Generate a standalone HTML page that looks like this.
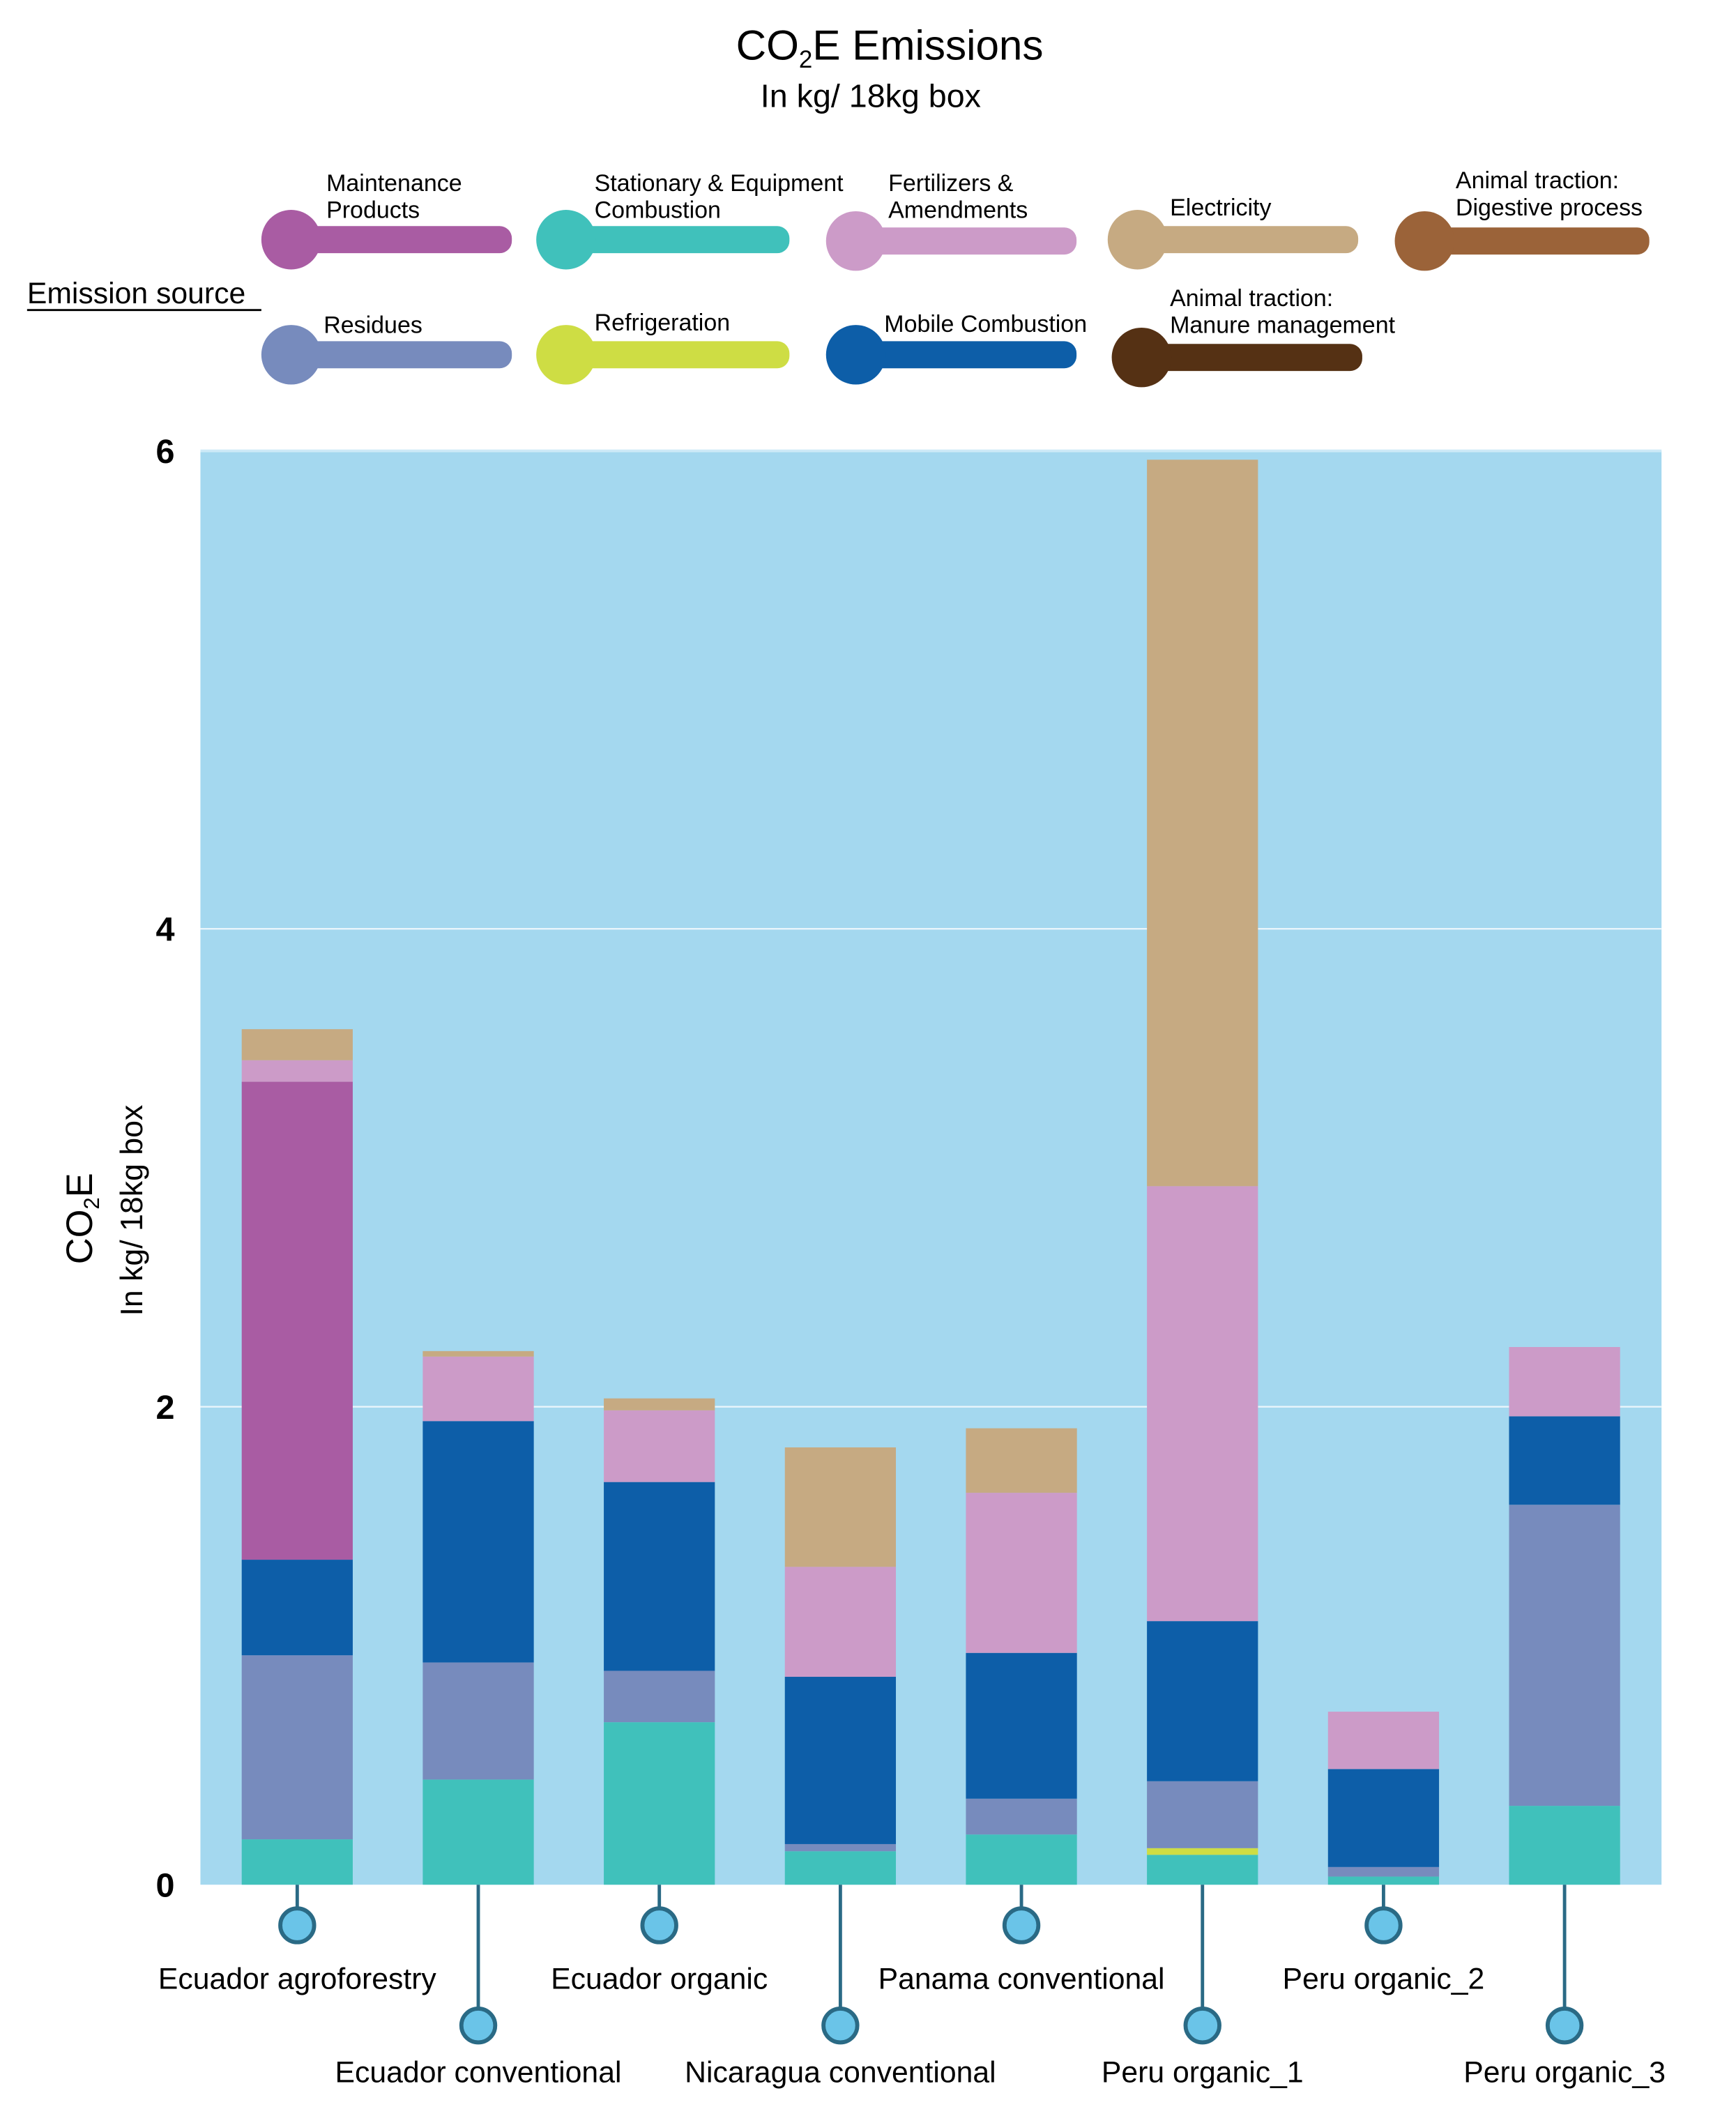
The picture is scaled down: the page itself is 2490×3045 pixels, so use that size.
<!DOCTYPE html>
<html><head><meta charset="utf-8"><style>
html,body{margin:0;padding:0;background:#fff}
svg{display:block;font-family:"Liberation Sans",sans-serif}
</style></head><body>
<svg id="chart" width="2490" height="3045" viewBox="0 0 1282 1568" preserveAspectRatio="none" xmlns="http://www.w3.org/2000/svg">
<text x="657" y="44" text-anchor="middle" font-size="31">CO<tspan font-size="18" dy="6">2</tspan><tspan dy="-6">E Emissions</tspan></text>
<text x="643" y="79" text-anchor="middle" font-size="24">In kg/ 18kg box</text>
<text x="20" y="224" font-size="22">Emission source</text>
<line x1="20" y1="229" x2="193" y2="229" stroke="#000" stroke-width="1.5"/>
<g id="legend"></g>
<rect x="148" y="333" width="1079" height="1059" fill="#a4d8ef"/>
<line x1="148" y1="333" x2="1227" y2="333" stroke="#cdeaf7" stroke-width="2"/>
<g id="grid"></g>
<g id="bars"></g>
<g id="yaxis"></g>
<g id="xaxis"></g>
<text transform="translate(68,900) rotate(-90)" text-anchor="middle" font-size="27">CO<tspan font-size="16" dy="5">2</tspan><tspan dy="-5">E</tspan></text>
<text transform="translate(105,894) rotate(-90)" text-anchor="middle" font-size="23">In kg/ 18kg box</text>
</svg>
<script>
const categories = ["Ecuador agroforestry","Ecuador conventional","Ecuador organic","Nicaragua conventional","Panama conventional","Peru organic_1","Peru organic_2","Peru organic_3"];
const seriesNames = ["Stationary & Equipment Combustion","Refrigeration","Residues","Mobile Combustion","Maintenance Products","Fertilizers & Amendments","Electricity"];
const stationary = [0.19,0.44,0.68,0.14,0.21,0.125,0.034,0.33];
const refrigeration = [0,0,0,0,0,0.028,0,0];
const residues = [0.77,0.49,0.215,0.03,0.15,0.28,0.04,1.26];
const mobile = [0.40,1.01,0.79,0.70,0.61,0.67,0.41,0.37];
const maintenance = [2.0,0,0,0,0,0,0,0];
const fertilizers = [0.09,0.27,0.30,0.46,0.67,1.82,0.24,0.29];
const electricity = [0.13,0.023,0.05,0.50,0.27,3.04,0,0];
const yTicks = [0,2,4,6];
const seriesColors = ["#40c1bb","#cedd44","#778bbd","#0d5ea8","#a95ca3","#cc9bc8","#c6aa82"];
const NS="http://www.w3.org/2000/svg";
function mk(tag,attrs,parent,text){const e=document.createElementNS(NS,tag);for(const k in attrs)e.setAttribute(k,attrs[k]);if(text!==undefined)e.textContent=text;parent.appendChild(e);return e;}
const x0=148,x1=1227,yBase=1392,unit=176.5;
const yScale=v=>yBase-v*unit;
const step=133.7;
const xCenter=i=>219.5+step*i;
const barW=82;
const grid=document.getElementById('grid'), yaxis=document.getElementById('yaxis');
yTicks.forEach(t=>{
  if(t>0&&t<6){const l=mk('line',{x1:x0,x2:x1,y1:yScale(t),y2:yScale(t),stroke:'#e8f5fb','stroke-width':1.2},grid);
  
  }
  const tx=mk('text',{x:122,y:yScale(t)+9,'text-anchor':'middle','font-size':25,'font-weight':'bold'},yaxis,String(t));
  
  
});
const all=[stationary,refrigeration,residues,mobile,maintenance,fertilizers,electricity];
const bars=document.getElementById('bars'), xaxis=document.getElementById('xaxis');
categories.forEach((c,i)=>{
  let cum=0;const cx=xCenter(i);
  all.forEach((s,k)=>{
    const v=s[i]; if(!v) return;
    const r=mk('rect',{x:cx-barW/2,y:yScale(cum+v),width:barW,height:v*unit,fill:seriesColors[k]},bars);
    
    
    cum+=v;
  });
  const low=i%2===1;
  const cy=low?1496:1422, ly=low?1538:1469;
  const ln=mk('line',{x1:cx,x2:cx,y1:yBase,y2:cy,stroke:'#2a6a85','stroke-width':2.5},xaxis);
  
  
  const ci=mk('circle',{cx:cx,cy:cy,r:12.5,fill:'#6ac4e8',stroke:'#2a6a85','stroke-width':3},xaxis);
  
  
  const t=mk('text',{x:cx,y:ly,'text-anchor':'middle','font-size':22},xaxis,c);
  
  
});
const legendItems=[
 {lines:["Maintenance","Products"],color:"#a95ca3",cx:215,cy:177,end:378,tx:241,ty:141},
 {lines:["Stationary & Equipment","Combustion"],color:"#40c1bb",cx:418,cy:177,end:583,tx:439,ty:141},
 {lines:["Fertilizers &","Amendments"],color:"#cc9bc8",cx:632,cy:178,end:795,tx:656,ty:141},
 {lines:["Electricity"],color:"#c6aa82",cx:840,cy:177,end:1003,tx:864,ty:159},
 {lines:["Animal traction:","Digestive process"],color:"#9b6339",cx:1052,cy:178,end:1218,tx:1075,ty:139},
 {lines:["Residues"],color:"#778bbd",cx:215,cy:262,end:378,tx:239,ty:246},
 {lines:["Refrigeration"],color:"#cedd44",cx:418,cy:262,end:583,tx:439,ty:244},
 {lines:["Mobile Combustion"],color:"#0d5ea8",cx:632,cy:262,end:795,tx:653,ty:245},
 {lines:["Animal traction:","Manure management"],color:"#553114",cx:843,cy:264,end:1006,tx:864,ty:226}
];
const legend=document.getElementById('legend');
legendItems.forEach(it=>{
  const g=mk('g',{},legend);
  
  
  mk('rect',{x:it.cx,y:it.cy-10,width:it.end-it.cx,height:20,rx:9,fill:it.color},g);
  mk('circle',{cx:it.cx,cy:it.cy,r:22,fill:it.color},g);
  it.lines.forEach((l,j)=>mk('text',{x:it.tx,y:it.ty+j*20,'font-size':17.5},g,l));
});
</script>
</body></html>
